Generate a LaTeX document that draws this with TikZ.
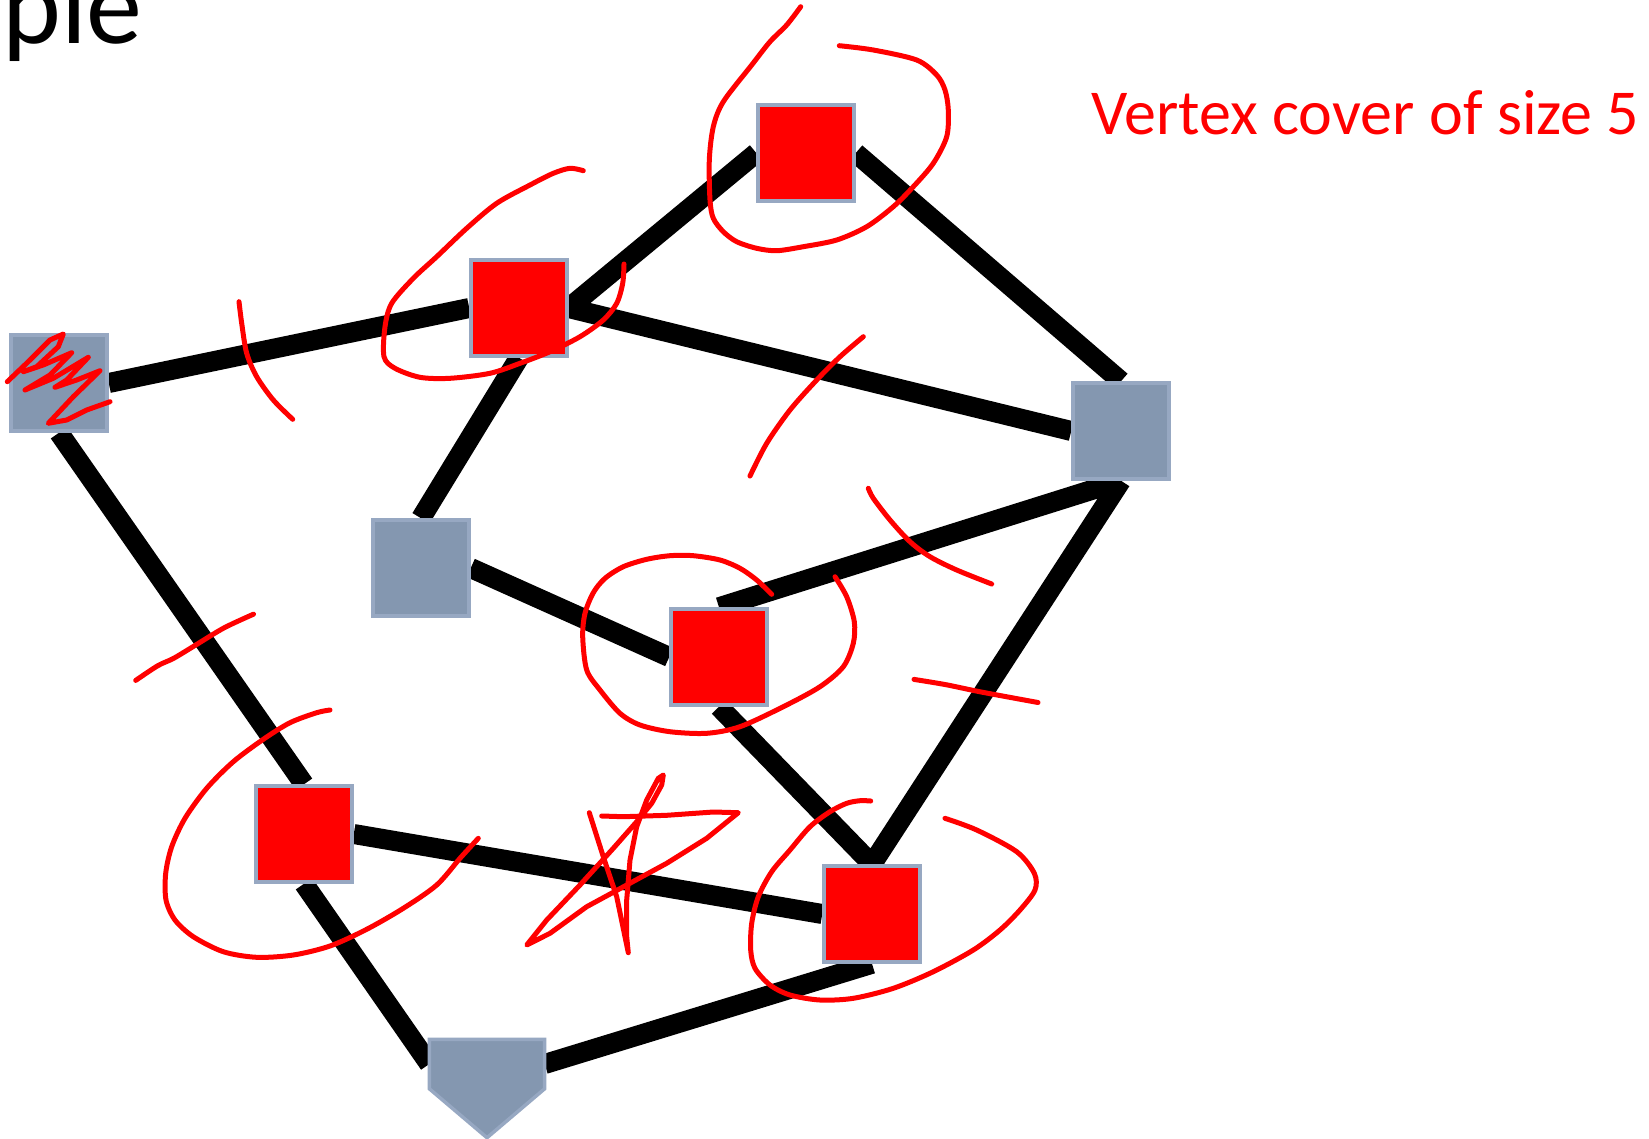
\documentclass[tikz,border=0pt]{standalone}
\usepackage{fontspec}
\setmainfont{Carlito}
\usetikzlibrary{calc}
\definecolor{slate}{HTML}{8497B0}
\definecolor{slateline}{HTML}{97A8C2}

\begin{document}
\begin{tikzpicture}[x=1pt, y=-1pt,
    vertex/.style={draw=slateline, line width=3.5pt, minimum size=96pt, inner sep=0pt},
    plain/.style={vertex, fill=slate},
    chosen/.style={vertex, fill=red},
    link/.style={line width=20pt},
    ink/.style={red, line width=5pt, line cap=round, line join=round}]
    \useasboundingbox (0, 0) rectangle (1649, 1138);

    \node[anchor=base west, inner sep=0pt, font=\fontsize{112}{130}\selectfont] (title) at (2, 43) {ple};
    \node[anchor=base west, inner sep=0pt, text=red, font=\fontsize{64}{76}\selectfont] (caption) at (1091, 134) {Vertex cover of size 5};

    \node[plain] (v1) at (59, 383) {};
    \node[chosen] (v2) at (519, 308) {};
    \node[chosen] (v3) at (806, 153) {};
    \node[plain] (v4) at (1121, 431) {};
    \node[plain] (v5) at (421, 568) {};
    \node[chosen] (v6) at (719, 657) {};
    \node[chosen] (v7) at (304, 834) {};
    \node[chosen] (v8) at (872, 914) {};
    \node[minimum width=115pt, minimum height=49pt, inner sep=0pt] (v9) at (487, 1064) {};

    \draw[link]
    (v1.east) -- (v2.west)
    (v2.east) -- (v3.west)
    (v3.east) -- (v4.north)
    (v2.east) -- (v4.west)
    (v2.south) -- (v5.north)
    (v1.south) -- (v7.north)
    (v5.east) -- (v6.west)
    (v4.south) -- (v6.north)
    (v4.south) -- (v8.north)
    (v6.south) -- (v8.north)
    (v7.east) -- (v8.west)
    (v7.south) -- (v9.west)
    (v9.east) -- (v8.south);

    \node[plain] at (v1) {};
    \node[chosen] at (v2) {};
    \node[chosen] at (v3) {};
    \node[plain] at (v4) {};
    \node[plain] at (v5) {};
    \node[chosen] at (v6) {};
    \node[chosen] at (v7) {};
    \node[chosen] at (v8) {};
    \filldraw[fill=slate, draw=slateline, line width=3.5pt]
    (v9.north west) -- (v9.north east) -- (v9.south east) -- ($(v9.south)+(0, 49)$) -- (v9.south west) -- cycle;

    % circles round the cover
    \draw[ink] plot[smooth] coordinates {(800.7,6.7) (786.7,25) (770,41.7) (751.7,65) (723.3,101.7) (713.3,126.7) (709.3,160) (710,200) (713.3,218.3) (723.3,231.7) (736.7,241.7) (756.7,248.3) (776.7,250.7) (803.3,246.7) (836.7,240) (866.7,226.7) (893.3,206.7) (913.3,186.7) (933.3,163.3) (946.7,136.7) (948.3,110) (945,90) (936.7,75) (916.7,60) (873.3,50) (839.3,45.7)};
    \draw[ink] plot[smooth] coordinates {(583.3,170.7) (570,168.3) (553.3,173.3) (530,185) (496.7,203.3) (466.7,228.3) (436.7,256.7) (413.3,278.3) (391.7,303.3) (385,326.7) (384,356.7) (395,368.3) (420,377.3) (450,378.3) (490,373.3) (520,363.3) (550,351.7) (580,336.7) (603.3,320) (616.7,303.3) (622.7,283.3) (624,264)};
    \draw[ink] plot[smooth] coordinates {(771.7,594.3) (756.7,580) (740,568.3) (720,560) (693.3,555.7) (670,555.7) (646.7,559.3) (623.3,566.7) (605,578.3) (593.3,592.7) (585,613.3) (582.7,636.7) (586.7,670) (600,690) (620,713.3) (640,725) (670,731.7) (706.7,733.3) (740,726.7) (783.3,706.7) (820,686.7) (843.3,666.7) (853.3,643.3) (854.3,621.7) (846.7,596.7) (835,576.7)};
    \draw[ink] plot[smooth] coordinates {(330,710) (316.7,712.7) (290,722.7) (263.3,739.3) (233.3,761.7) (206.7,788.3) (185,818.3) (171.7,846.7) (165.7,873.3) (166,900) (175,920) (193.3,936.7) (223.3,951.7) (256.7,957.3) (293.3,955) (330,946) (366.7,929.3) (403.3,908.3) (436.7,885) (460,858.3) (478.3,838.3)};
    \draw[ink] plot[smooth] coordinates {(870.7,801) (860,800.7) (846.7,803.3) (830,811.7) (810,826.7) (790,850) (771.7,871.7) (758.3,896.7) (751.7,923.3) (750.7,950) (755,968.3) (770,985) (790,995) (820,1000) (853.3,998.3) (893.3,988.3) (933.3,971.7) (973.3,950) (1000,930) (1020,910) (1035,890) (1034.3,873.3) (1016.7,851.7) (976.7,830) (945,818.3)};

    % scribble over the left vertex
    \draw[ink] (7.3,381.7) -- (30,360) -- (50,340) -- (63.3,334) -- (58.3,346.7) -- (36.7,366.7) -- (23.3,371.7) -- (43.3,365) -- (71.7,352.7) -- (50,375) -- (25,390) -- (53.3,378.3) -- (88.3,357.3) -- (66.7,380) -- (55,387.3) -- (76.7,380) -- (100,370.7) -- (73.3,396.7) -- (48.3,423.3) -- (66.7,420) -- (86.7,410) -- (110,401.7);

    % ticks across covered edges
    \draw[ink] plot[smooth] coordinates {(239,301.7) (241.7,323.3) (246.7,353.3) (256.7,376.7) (273.3,400) (292.7,419.3)};
    \draw[ink] plot[smooth] coordinates {(863.3,336.7) (840,356.7) (816.7,380) (790,410) (766.7,443.3) (750,476)};
    \draw[ink] plot[smooth] coordinates {(868.3,488.3) (873.3,498.3) (890,520) (910,541.7) (930,556.7) (956.7,570) (991.7,584)};
    \draw[ink] plot[smooth] coordinates {(135.7,680.4) (157.8,665.7) (173.5,658.4) (194.6,645.7) (224,627.9) (253.5,614.2)};
    \draw[ink] plot[smooth] coordinates {(914,679.4) (945.5,684.6) (981.2,692) (1038,702.5)};

    % star on the lower edge
    \draw[ink] (589.3,812.7) -- (603.3,856.7) -- (616.7,896.7) -- (628.3,952.7) -- (626.7,936.7) -- (626.7,900) -- (630,860) -- (636.7,826.7) -- (646.7,800) -- (658.3,778.3) -- (663.3,775) -- (661.7,785) -- (651.7,803.3) -- (636.7,821.7) -- (613.3,848.3) -- (580,885) -- (546.7,920) -- (526.7,945) -- (550,933.3) -- (586.7,906.7) -- (626.7,885) -- (666.7,863.3) -- (706.7,838.3) -- (738.3,812.7) -- (713.3,812) -- (666.7,815.3) -- (623.3,816.7) -- (601.7,816);
\end{tikzpicture}
\end{document}
